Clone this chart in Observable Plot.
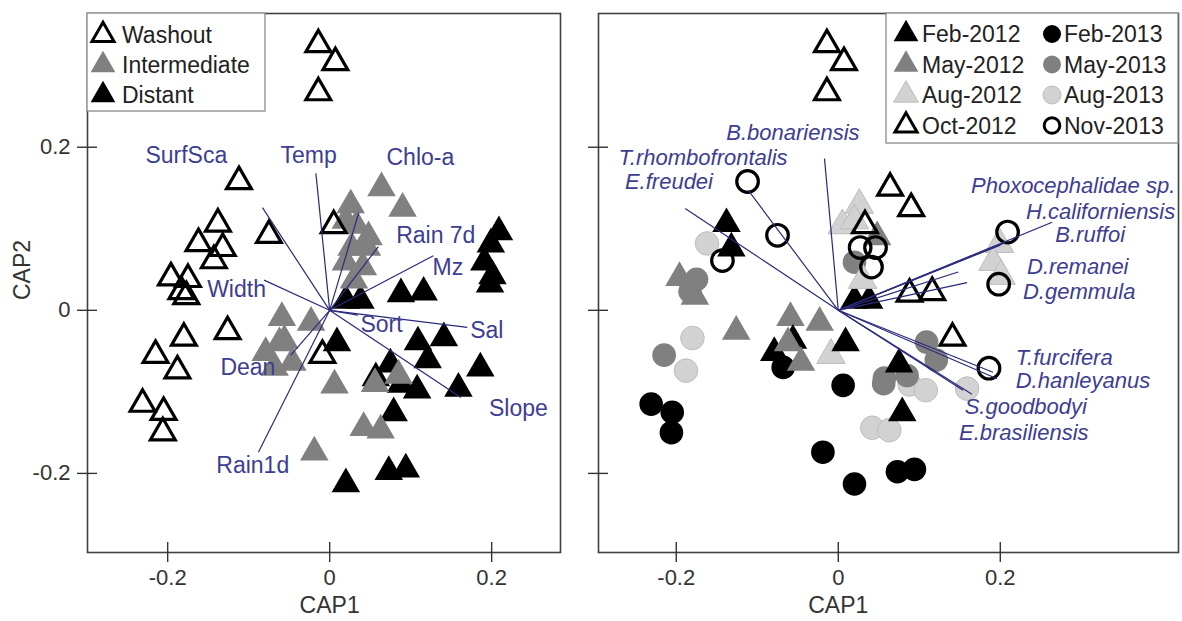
<!DOCTYPE html>
<html>
<head>
<meta charset="utf-8">
<script src="https://cdn.jsdelivr.net/npm/d3@7"></script>
<script src="https://cdn.jsdelivr.net/npm/@observablehq/plot@0.6"></script>
<style>
  body { margin: 0; background: #fff; font-family: Arial, "Liberation Sans", sans-serif; }
  #wrap { position: relative; width: 1182px; height: 621px; overflow: hidden; background: #fff; }
  .panel { position: absolute; top: 0; }
  .legend { position: absolute; top: 0; }
</style>
</head>
<body>
<div id="wrap"></div>
<script>
// Sample scores on the first two CAP axes, with the beach zone and sampling campaign of each sample.
const zones = ["Washout", "Intermediate", "Distant"];
const campaigns = ["Feb-2012", "May-2012", "Aug-2012", "Oct-2012", "Feb-2013", "May-2013", "Aug-2013", "Nov-2013"];

const cap1 = [
  -0.014, 0.007, -0.014, -0.112, -0.138, -0.162, -0.132, -0.143, -0.075, 0.005,
  -0.196, -0.175, -0.183, -0.177, -0.126, -0.180, -0.215, -0.188, -0.009, -0.231,
  -0.205, -0.206,
  0.209, 0.199, 0.191, 0.201, 0.198, 0.088, 0.116, 0.141, 0.186, 0.109,
  0.121, 0.159, 0.079, 0.020, 0.073, 0.094, 0.057, 0.088, 0.020, 0.038, 0.009, 0.108, 0.075,
  0.064, 0.090, 0.026, 0.033, 0.027, 0.046, 0.041, 0.030, 0.020, -0.059,
  -0.023, -0.056, -0.079, -0.068, -0.046, 0.006, 0.042, 0.063, -0.019, 0.085, 0.056,
  0.048, 0.020, -0.062
];
const cap2 = [
  0.326, 0.304, 0.267, 0.158, 0.106, 0.082, 0.076, 0.061, 0.092, 0.104,
  0.040, 0.038, 0.023, 0.017, -0.026, -0.034, -0.055, -0.074, -0.055, -0.115,
  -0.125, -0.150,
  0.096, 0.081, 0.059, 0.042, 0.032, 0.020, 0.022, -0.034, -0.071, -0.039,
  -0.061, -0.096, -0.126, -0.213, -0.198, -0.195, -0.083, -0.091, 0.012, 0.012, -0.040, -0.098, -0.066,
  0.150, 0.125, 0.129, 0.104, 0.077, 0.077, 0.053, 0.037, 0.059, -0.009,
  -0.015, -0.037, -0.052, -0.070, -0.064, -0.092, -0.144, -0.147, -0.174, -0.080, -0.090,
  0.090, 0.110, -0.040
];
const zone = [
  "Washout","Washout","Washout","Washout","Washout","Washout","Washout","Washout","Washout","Washout",
  "Washout","Washout","Washout","Washout","Washout","Washout","Washout","Washout","Washout","Washout",
  "Washout","Washout",
  "Distant","Distant","Distant","Distant","Distant","Distant","Distant","Distant","Distant","Distant",
  "Distant","Distant","Distant","Distant","Distant","Distant","Distant","Distant","Distant","Distant","Distant","Distant","Distant",
  "Intermediate","Intermediate","Intermediate","Intermediate","Intermediate","Intermediate","Intermediate","Intermediate","Intermediate","Intermediate",
  "Intermediate","Intermediate","Intermediate","Intermediate","Intermediate","Intermediate","Intermediate","Intermediate","Intermediate","Intermediate","Intermediate",
  "Intermediate","Intermediate","Intermediate"
];
const campaign = [
  "Oct-2012","Oct-2012","Oct-2012","Nov-2013","Feb-2012","Aug-2013","Feb-2012","Nov-2013","Nov-2013","Aug-2012",
  "May-2012","May-2013","May-2013","May-2012","May-2012","Aug-2013","May-2013","Aug-2013","Aug-2012","Feb-2013",
  "Feb-2013","Feb-2013",
  "Nov-2013","Aug-2012","Aug-2012","Aug-2012","Nov-2013","Oct-2012","Oct-2012","Oct-2012","Nov-2013","May-2013",
  "May-2013","Aug-2013","Feb-2012","Feb-2013","Feb-2013","Feb-2013","May-2013","Aug-2013","Feb-2012","Feb-2012","Feb-2012","Aug-2013","Feb-2012",
  "Oct-2012","Oct-2012","Aug-2012","Oct-2012","Nov-2013","Nov-2013","Nov-2013","Aug-2012","May-2013","May-2012",
  "May-2012","Feb-2012","Feb-2012","Feb-2013","May-2012","Feb-2013","Aug-2013","Aug-2013","Feb-2013","May-2013","May-2013",
  "May-2012","Aug-2012","May-2012"
];

// Environmental variables correlated with the CAP axes (vector tips).
const envNames = ["SurfSca", "Temp", "Chlo-a", "Rain 7d", "Mz", "Width", "Sort", "Sal", "Slope", "Dean", "Rain1d"];
const envCap1 = [-0.083, -0.017, 0.036, 0.060, 0.128, -0.081, 0.035, 0.170, 0.162, -0.048, -0.088];
const envCap2 = [0.126, 0.168, 0.120, 0.078, 0.067, 0.037, -0.006, -0.021, -0.107, -0.055, -0.174];

// Species correlated with the CAP axes (vector tips).
const spNames = ["B.bonariensis", "T.rhombofrontalis", "E.freudei", "Phoxocephalidae sp.", "H.californiensis", "B.ruffoi",
  "D.remanei", "D.gemmula", "T.furcifera", "D.hanleyanus", "S.goodbodyi", "E.brasiliensis"];
const spCap1 = [-0.017, -0.111, -0.189, 0.264, 0.206, 0.200, 0.148, 0.159, 0.191, 0.196, 0.154, 0.165];
const spCap2 = [0.186, 0.147, 0.125, 0.108, 0.083, 0.080, 0.047, 0.034, -0.076, -0.084, -0.098, -0.103];

// Where each vector's name is written (label anchor point, text anchor).
const envLabelAt = [[-0.177, 0.190], [-0.026, 0.190], [0.112, 0.187], [0.131, 0.092], [0.146, 0.052], [-0.115, 0.025],
  [0.064, -0.018], [0.194, -0.025], [0.233, -0.120], [-0.101, -0.070], [-0.095, -0.191]];
const spLabelAt = [[-0.056, 0.217, "middle"], [-0.167, 0.187, "middle"], [-0.209, 0.157, "middle"], [0.416, 0.152, "end"],
  [0.416, 0.121, "end"], [0.354, 0.093, "end"], [0.233, 0.053, "start"], [0.228, 0.022, "start"],
  [0.219, -0.058, "start"], [0.219, -0.087, "start"], [0.156, -0.119, "start"], [0.149, -0.150, "start"]];

const ticks = [-0.2, 0, 0.2];
const yDomain = [-0.297, 0.364];

const samples = cap1.map((x, i) => ({x, y: cap2[i], zone: zone[i], campaign: campaign[i]}));
const env = envNames.map((name, i) => ({name, x: envCap1[i], y: envCap2[i], lx: envLabelAt[i][0], ly: envLabelAt[i][1]}));
const spp = spNames.map((name, i) => ({name, x: spCap1[i], y: spCap2[i], lx: spLabelAt[i][0], ly: spLabelAt[i][1], anchor: spLabelAt[i][2]}));

const BLACK = "#000", GREY = "#808080", LIGHT = "#d2d2d2";
const zoneFill = {Washout: "none", Intermediate: GREY, Distant: BLACK};
const campFill = {"Feb-2012": BLACK, "May-2012": GREY, "Aug-2012": LIGHT, "Oct-2012": "none",
                  "Feb-2013": BLACK, "May-2013": GREY, "Aug-2013": LIGHT, "Nov-2013": "none"};
const campShape = c => c.endsWith("2012") ? "triangle" : "circle";
const VEC = "#2a2a7c", LAB = "#3d3d93";
const TRI_R = 10.6, TRI_OPEN_R = 9.2, CIRC_R = 11.8;

const fmt = d => d === 0 ? "0" : String(d);
const FONT = "Arial, 'Liberation Sans', sans-serif";

function frameMarks(xDomain, showYLabels) {
  const m = [
    Plot.frame({stroke: "#404040", strokeWidth: 1.6}),
    Plot.ruleX(ticks, {x: d => d, y1: () => yDomain[0], y2: () => yDomain[0], insetTop: -10, insetBottom: -10, stroke: "#333", strokeWidth: 1.4}),
    Plot.ruleY(ticks, {y: d => d, x1: () => xDomain[0], x2: () => xDomain[0], insetLeft: -10, insetRight: -10, stroke: "#333", strokeWidth: 1.4}),
    Plot.axisX(ticks, {tickSize: 0, tickPadding: 17, tickFormat: fmt, label: null, fontSize: 22, fill: "#333"}),
    Plot.text(["CAP1"], {x: () => 0, frameAnchor: "bottom", lineAnchor: "middle", dy: 53, fontSize: 23, fill: "#333"})
  ];
  if (showYLabels) {
    m.push(Plot.axisY(ticks, {tickSize: 0, tickPadding: 17, tickFormat: fmt, label: null, fontSize: 22, fill: "#333"}));
    m.push(Plot.text(["CAP2"], {frameAnchor: "left", dx: -65, dy: 17, rotate: -90, fontSize: 23, fill: "#333"}));
  }
  return m;
}

const wrap = document.getElementById("wrap");

// Left: samples by zone with environmental vectors
const xLeft = [-0.299, 0.285];
const left = Plot.plot({
  width: 580, height: 621,
  marginTop: 13, marginBottom: 69, marginLeft: 87, marginRight: 20,
  x: {domain: xLeft, axis: null},
  y: {domain: yDomain, axis: null},
  style: {fontFamily: FONT, fontSize: "22px", background: "transparent", overflow: "visible"},
  marks: [
    Plot.dot(samples.filter(d => d.zone !== "Washout"), {x: "x", y: "y", symbol: "triangle", r: TRI_R, fill: d => zoneFill[d.zone], stroke: "none"}),
    Plot.dot(samples.filter(d => d.zone === "Washout"), {x: "x", y: "y", symbol: "triangle", r: TRI_OPEN_R, fill: "none", stroke: BLACK, strokeWidth: 3.2}),
    Plot.link(env, {x1: () => 0, y1: () => 0, x2: "x", y2: "y", stroke: VEC, strokeWidth: 1.2}),
    Plot.text(env, {x: "lx", y: "ly", text: "name", fill: LAB, fontSize: 23}),
    ...frameMarks(xLeft, true)
  ]
});
left.classList.add("panel");
left.style.left = "0px";
wrap.appendChild(left);

// Right: samples by campaign with species vectors
const xRight = [-0.296, 0.420];
const filledR = samples.filter(d => campFill[d.campaign] !== "none");
const openR = samples.filter(d => campFill[d.campaign] === "none");
const spText = anchor => Plot.text(spp.filter(d => d.anchor === anchor),
  {x: "lx", y: "ly", text: "name", textAnchor: anchor, fill: LAB, fontSize: 22, fontStyle: "italic"});
const right = Plot.plot({
  width: 602, height: 621,
  marginTop: 13, marginBottom: 69, marginLeft: 18, marginRight: 4,
  x: {domain: xRight, axis: null},
  y: {domain: yDomain, axis: null},
  symbol: {domain: ["triangle", "circle"], range: ["triangle", "circle"]},
  r: {type: "identity"},
  style: {fontFamily: FONT, fontSize: "22px", background: "transparent", overflow: "visible"},
  marks: [
    Plot.dot(filledR, {x: "x", y: "y", symbol: d => campShape(d.campaign), r: d => campShape(d.campaign) === "triangle" ? TRI_R : CIRC_R,
      fill: d => campFill[d.campaign], stroke: d => campFill[d.campaign] === LIGHT ? "#bdbdbd" : "none", strokeWidth: 1}),
    Plot.dot(openR, {x: "x", y: "y", symbol: d => campShape(d.campaign), r: d => campShape(d.campaign) === "triangle" ? TRI_OPEN_R : 10.8,
      fill: "none", stroke: BLACK, strokeWidth: 3.2}),
    Plot.link(spp, {x1: () => 0, y1: () => 0, x2: "x", y2: "y", stroke: VEC, strokeWidth: 1.2}),
    spText("middle"), spText("start"), spText("end"),
    ...frameMarks(xRight, false)
  ]
});
right.classList.add("panel");
right.style.left = "580px";
wrap.appendChild(right);

// Legends
function legend(box, rows) {
  const svg = d3.select(wrap).append("svg").attr("class", "legend")
    .attr("width", 1182).attr("height", 621).style("left", "0px").style("pointer-events", "none");
  svg.append("rect").attr("x", box[0]).attr("y", box[1]).attr("width", box[2]).attr("height", box[3])
    .attr("fill", "#fff").attr("stroke", "#8a8a8a").attr("stroke-width", 1.3);
  for (const r of rows) {
    const g = svg.append("g").attr("transform", `translate(${r.sx},${r.sy})`);
    const sym = d3.symbol(r.shape === "triangle" ? d3.symbolTriangle : d3.symbolCircle, Math.PI * r.r * r.r);
    g.append("path").attr("d", sym()).attr("fill", r.fill).attr("stroke", r.stroke).attr("stroke-width", r.sw);
    svg.append("text").attr("x", r.tx).attr("y", r.sy).attr("dy", "0.35em").attr("font-family", FONT)
      .attr("font-size", 23).attr("fill", "#222").text(r.label);
  }
}
const styleOf = (fill) => fill === "none"
  ? {fill: "none", stroke: BLACK, sw: 3}
  : {fill, stroke: fill === LIGHT ? "#bdbdbd" : "none", sw: 1};

legend([87, 13, 178, 98], zones.map((z, i) => ({
  label: z, shape: "triangle", r: z === "Washout" ? 8.2 : 9.2, ...styleOf(zoneFill[z]), sx: 103, sy: 35 + i * 30, tx: 122
})));
legend([886, 13, 292, 130], campaigns.map((c, i) => ({
  label: c, shape: campShape(c), r: campShape(c) === "triangle" ? (campFill[c] === "none" ? 8.2 : 9.2) : (campFill[c] === "none" ? 7.8 : 9),
  ...styleOf(campFill[c]), sx: i < 4 ? 906 : 1052, sy: 34 + (i % 4) * 30.5, tx: i < 4 ? 922 : 1064
})));
</script>
</body>
</html>
